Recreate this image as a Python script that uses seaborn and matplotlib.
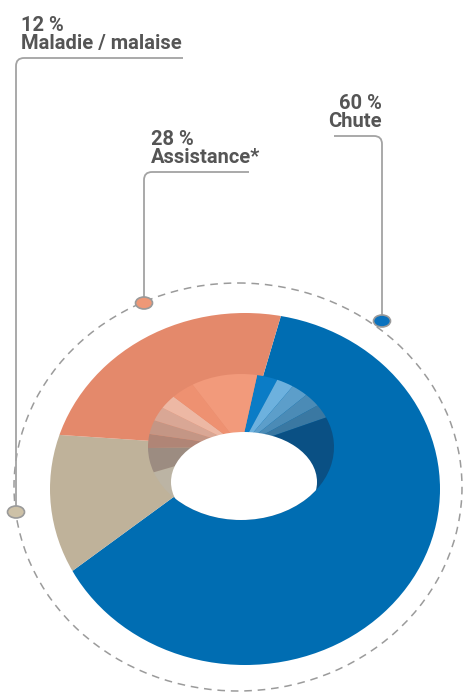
import matplotlib.pyplot as plt
import seaborn as sns
from matplotlib.patches import Ellipse, Circle, PathPatch
from matplotlib.path import Path

# data
categories = ["Chute", "Maladie / malaise", "Assistance*"]
shares = [60, 12, 28]
pct_labels = ["60 %", "12 %", "28 %"]
colors = ["#006DB2", "#BFB29A", "#E4896B"]
marker_colors = ["#0A72BE", "#CDC1A7", "#EE9877"]

# shading of the inner wall of the ring (per category, clockwise)
rim_shades = [
    ["#0B7CC6"] + sns.blend_palette(["#6DB1DE", "#3A78A2"], 4).as_hex() + ["#0A5084"],
    ["#BCB4A4", "#9C8C81"],
    sns.blend_palette(["#B08576", "#EDB8A4"], 4).as_hex() + ["#EE9171", "#F29A7B"],
]
rim_weights = [
    [0.06, 0.05, 0.05, 0.05, 0.05, 0.74],
    [0.55, 0.45],
    [0.11, 0.11, 0.11, 0.11, 0.15, 0.41],
]

W, H = 464, 693
text_color = "#555555"
line_color = "#A3A3A3"

sns.set_theme(style="white")
plt.rcParams['font.family'] = ['Roboto', 'DejaVu Sans']

fig = plt.figure(figsize=(W / 100, H / 100), dpi=100)
ax = fig.add_axes([0, 0, 1, 1])
ax.set_xlim(0, W)
ax.set_ylim(H, 0)
ax.axis('off')


def ellipse_axes(cx, cy, rx, ry):
    return fig.add_axes([(cx - rx) / W, (H - cy - ry) / H, 2 * rx / W, 2 * ry / H])


def fix_axes(a):
    a.set_xlim(-1, 1)
    a.set_ylim(-1, 1)
    a.set_aspect('auto')
    a.axis('off')


# dashed guide ring
ax.add_patch(Ellipse((238, 487), 448, 408, fill=False, ec="#9B9B9B", lw=1.1,
                     ls=(0, (5, 3.8)), zorder=1))

# outer donut surface (perspective: wedges radiate from the well centre)
pax = ellipse_axes(245, 489, 195, 176)
wedges, _ = pax.pie(shares, colors=colors, startangle=75, counterclock=False,
                    center=((242 - 245) / 195, (489 - 447) / 176), radius=1.6,
                    wedgeprops=dict(linewidth=0))
fix_axes(pax)
outer_clip = Circle((0, 0), 1, transform=pax.transData)
for w in wedges:
    w.set_clip_on(True)
    w.set_clip_path(outer_clip)

# inner wall
rim_vals, rim_cols = [], []
for v, shades, w in zip(shares, rim_shades, rim_weights):
    for c, f in zip(shades, w):
        rim_vals.append(v * f)
        rim_cols.append(c)
rax = ellipse_axes(241, 447, 93, 73)
rax.pie(rim_vals, colors=rim_cols, startangle=80, counterclock=False,
        wedgeprops=dict(linewidth=0))
fix_axes(rax)
hole = Ellipse(((244 - 241) / 93, -(482 - 447) / 73), 2 * 73 / 93, 2 * 50 / 73,
               facecolor="white", edgecolor="none", zorder=5)
rax.add_patch(hole)
hole.set_clip_path(Circle((0, 0), 1, transform=rax.transData))


def leader(x0, y0, y_top, x_end, r=8):
    s = 1 if x_end > x0 else -1
    verts = [(x0, y0), (x0, y_top + r), (x0, y_top), (x0 + s * r, y_top), (x_end, y_top)]
    codes = [Path.MOVETO, Path.LINETO, Path.CURVE3, Path.CURVE3, Path.LINETO]
    ax.add_patch(PathPatch(Path(verts, codes), fill=False, ec=line_color, lw=1.3, zorder=2))


# label layout: marker (x, y), line top, line end, text x, baselines, alignment
layout = {
    "Chute": dict(m=(382, 321), top=136, end=334, tx=382, by=(109, 127), ha="right"),
    "Maladie / malaise": dict(m=(16, 512), top=58, end=183, tx=21, by=(31, 49), ha="left"),
    "Assistance*": dict(m=(144, 303), top=172, end=249, tx=151, by=(145, 163), ha="left"),
}

for cat, pct, mc in zip(categories, pct_labels, marker_colors):
    L = layout[cat]
    mx, my = L["m"]
    leader(mx, my, L["top"], L["end"])
    ax.add_patch(Ellipse((mx, my), 17, 12, fc=mc, ec="#9A9A9A", lw=1.2, zorder=6))
    ax.text(L["tx"], L["by"][0], pct, ha=L["ha"], va="baseline", fontsize=14.5,
            fontweight="bold", color=text_color)
    ax.text(L["tx"], L["by"][1], cat, ha=L["ha"], va="baseline", fontsize=14.5,
            fontweight="bold", color=text_color)

fig.savefig("out.png", dpi=100, facecolor="white")
